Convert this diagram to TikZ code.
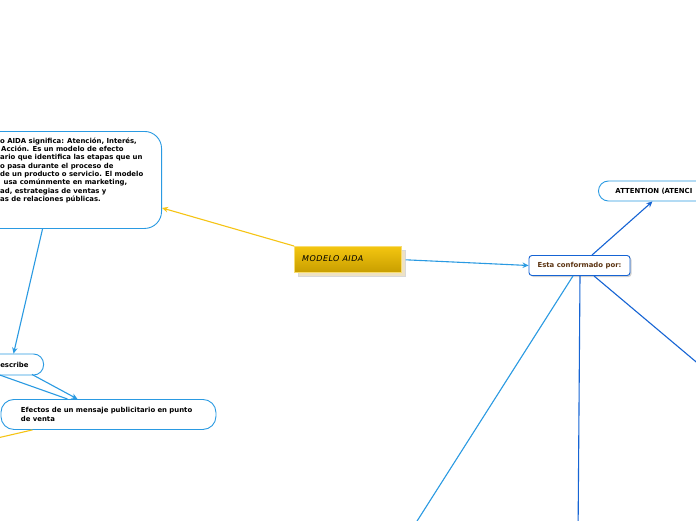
\documentclass[tikz,border=0pt]{standalone}
\usepackage{fontspec}
\setmainfont{DejaVu Sans}
\usetikzlibrary{arrows.meta,calc}
\definecolor{lb}{RGB}{42,154,226}
\definecolor{db}{RGB}{22,100,212}
\definecolor{yl}{RGB}{246,196,20}
\definecolor{goldtop}{RGB}{244,198,16}
\definecolor{goldbot}{RGB}{200,158,0}
\definecolor{shadowc}{RGB}{238,226,196}
\definecolor{brownt}{RGB}{92,52,18}
\tikzset{
  bubble/.style={draw=lb, line width=0.9pt, fill=white, rounded corners=10pt},
  txt/.style={font=\fontsize{6.9}{8.3}\selectfont\bfseries, text=black},
  conn/.style={line width=1.1pt, -{Stealth[length=6pt,width=5.5pt]}},
  plain/.style={line width=1.1pt},
}
\begin{document}
\begin{tikzpicture}[x=1pt,y=-1pt]
\useasboundingbox (0,0) rectangle (696,520);
\clip (0,0) rectangle (696,520);
\fill[white] (0,0) rectangle (696,520);

% big definition box
\node[bubble, rounded corners=17pt, minimum width=202pt, minimum height=97pt, anchor=north east, inner sep=0pt] (def) at (162,131) {};
\node[txt, anchor=north west, align=left, inner sep=0pt] (deftext) at (0,137.5)
 {o AIDA significa: Atención, Interés,\\
  \hspace*{1pt}Acción. Es un modelo de efecto\\
  ario que identifica las etapas que un\\
  o pasa durante el proceso de\\
  de un producto o servicio. El modelo\\
  \hspace*{3.5pt}usa comúnmente en marketing,\\
  ad, estrategias de ventas y\\
  as de relaciones públicas.};

% central node
\fill[shadowc, draw=white!85!black, line width=0.4pt] (298,250) rectangle (405,276);
\node[minimum width=107pt, minimum height=26pt, inner sep=0pt, anchor=north west,
      top color=goldtop, bottom color=goldbot, draw=goldtop!60!white, line width=0.6pt]
      (gold) at (294,246) {};
\node[anchor=west, inner sep=0pt, font=\fontsize{8}{9}\selectfont\itshape\addfontfeature{LetterSpace=6}] (goldtext) at (302,258.5) {MODELO AIDA};

% Esta conformado por
\fill[black!18, rounded corners=3pt] (530.5,257) rectangle (631.5,277);
\node[draw=db, line width=0.9pt, fill=white, rounded corners=3pt, minimum width=101pt, minimum height=20pt,
      inner sep=0pt, txt, text=brownt] (esta) at (579.5,265.5) {Esta conformado por:};

% Attention
\node[bubble, anchor=west, minimum width=162pt, minimum height=20pt, inner ysep=0pt, inner xsep=17pt,
      text width=128pt, align=left, txt] (att) at (598,191) {ATTENTION (ATENCI};

% Describe
\node[bubble, anchor=east, minimum width=84pt, minimum height=21pt, inner ysep=0pt, inner xsep=15pt,
      text width=54pt, align=right, txt] (desc) at (44,364.5) {escribe};

% Efectos
\node[bubble, rounded corners=13pt, anchor=north west, minimum width=215pt, minimum height=30pt, inner ysep=0pt,
      inner xsep=20pt, text width=175pt, align=left, txt] (efe) at (0.5,399)
      {Efectos de un mensaje publicitario en punto\\de venta};

% off-canvas connector ends
\coordinate (offA) at (-20,368);
\coordinate (offB) at (-20,442);
\coordinate (offC) at (720,382);
\coordinate (offD) at (578,540);
\coordinate (offE) at (405,540);

% connectors
\draw[conn, yl] (gold.north west) -- ([yshift=-28pt]def.east);
\draw[conn, lb] ([xshift=4pt,yshift=-0.5pt]gold.east) -- (esta.west);
\draw[conn, db] ([xshift=12.5pt]esta.north) -- ([xshift=-27pt]att.south);
\draw[plain, db] ([xshift=14.5pt]esta.south) -- (offC);
\draw[plain, db] ([xshift=0.5pt]esta.south) -- (offD);
\draw[plain, lb] ([xshift=-6.5pt]esta.south) -- (offE);
\draw[conn, lb] ([xshift=-18pt]def.south) -- ([xshift=12pt]desc.north);
\draw[conn, lb] ([xshift=-12pt,yshift=1pt]desc.south east) -- ([xshift=-31pt]efe.north);
\draw[plain, lb] (offA) -- ([xshift=-41pt]efe.north);
\draw[plain, yl] ([xshift=-76pt]efe.south) -- (offB);
\end{tikzpicture}
\end{document}
